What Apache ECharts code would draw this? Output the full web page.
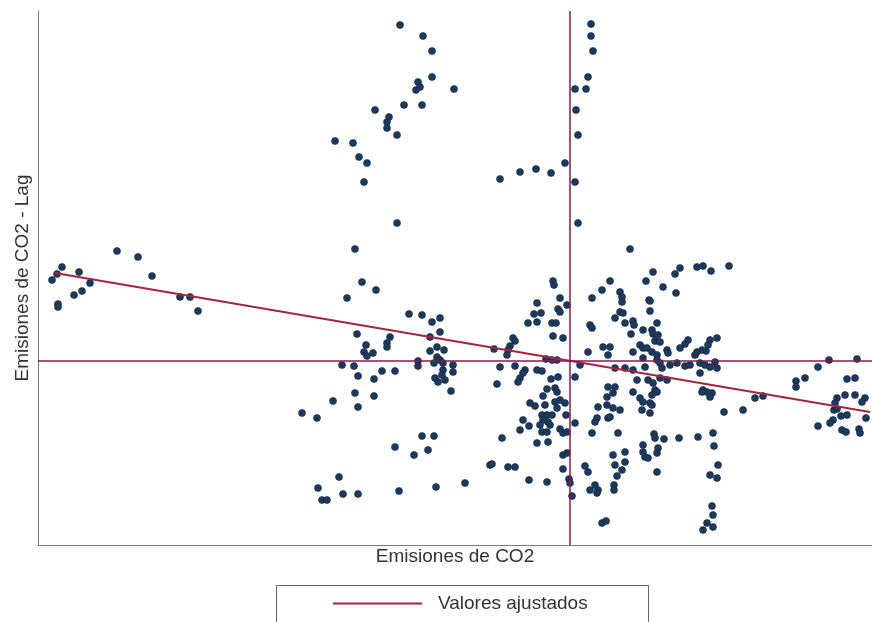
<!DOCTYPE html>
<html>
<head>
<meta charset="utf-8">
<script src="https://cdn.jsdelivr.net/npm/echarts@6/dist/echarts.min.js"></script>
<style>
  html, body { margin: 0; padding: 0; background: #fff; }
  #box { width: 872px; height: 622px; }
</style>
</head>
<body>
<div id="box"></div>
<script>
// valores estandarizados: [emisiones de CO2, rezago espacial]
var grupoOeste = [
    [-5.18, 0.81], [-5.13, 0.87], [-5.08, 0.94], [-4.91, 0.89], [-4.80, 0.78],
    [-4.88, 0.70], [-4.96, 0.66], [-5.12, 0.57], [-5.12, 0.54], [-4.53, 1.10],
    [-4.32, 1.04], [-4.18, 0.85], [-3.90, 0.64], [-3.80, 0.64], [-3.72, 0.50]
];
var grupoNorte = [
    [-1.70, 3.36], [-1.47, 3.25], [-1.38, 3.10], [-1.38, 2.84], [-1.52, 2.79],
    [-1.50, 2.74], [-1.54, 2.71], [-1.16, 2.72], [-1.95, 2.51], [-1.66, 2.56],
    [-1.48, 2.56], [-1.81, 2.44], [-1.83, 2.39], [-1.83, 2.33], [-1.73, 2.26],
    [-2.35, 2.20], [-2.17, 2.18], [-2.11, 2.04], [-2.03, 1.98], [-2.06, 1.79],
    [-1.73, 1.38], [-2.15, 1.12], [-2.08, 0.79], [-1.94, 0.71], [-2.23, 0.63]
];
var grupoCentroNorte = [
    [-0.70, 1.82], [-0.50, 1.89], [-0.34, 1.92], [-0.19, 1.88], [-0.05, 1.98],
    [0.05, 2.72], [0.06, 2.51], [0.08, 2.26], [0.05, 1.79], [0.08, 1.38],
    [0.21, 3.37], [0.21, 3.25], [0.23, 3.10], [0.18, 2.84], [0.16, 2.72],
    [0.60, 1.12]
];
var grupoNoreste = [
    [0.40, 0.80], [0.32, 0.71], [0.22, 0.63], [0.50, 0.69], [0.52, 0.64],
    [0.76, 0.80], [0.83, 0.89], [0.93, 0.74], [1.05, 0.87], [1.10, 0.93],
    [1.06, 0.68], [1.27, 0.94], [1.33, 0.95], [1.41, 0.90], [1.59, 0.95],
    [0.79, 0.61], [-0.17, 0.80], [-0.16, 0.76], [-0.10, 0.63]
];
var grupoCentroOeste = [
    [-1.61, 0.47], [-1.48, 0.46], [-1.38, 0.39], [-1.30, 0.43], [-1.30, 0.29],
    [-1.40, 0.24], [-2.13, 0.27], [-1.80, 0.24], [-1.83, 0.18], [-1.83, 0.14],
    [-2.04, 0.16], [-2.06, 0.09], [-2.03, 0.05], [-1.97, 0.08], [-1.40, 0.10],
    [-1.33, 0.14], [-1.26, 0.11], [-1.33, 0.04], [-1.30, 0.01], [-2.28, -0.04],
    [-2.16, -0.05], [-2.12, -0.15], [-1.88, -0.10], [-1.75, -0.10], [-1.52, 0.00],
    [-1.52, -0.05], [-1.36, -0.02], [-1.27, -0.02], [-1.17, -0.04], [-1.27, -0.09],
    [-1.17, -0.11], [-1.35, -0.17], [-1.32, -0.21], [-1.25, -0.19], [-1.28, -0.14],
    [-1.19, -0.30], [-1.96, -0.18], [-2.15, -0.32], [-1.96, -0.35], [-2.37, -0.40],
    [-2.12, -0.46], [-2.68, -0.52], [-2.53, -0.57], [-1.48, -0.75], [-1.36, -0.75],
    [-1.75, -0.86], [-1.56, -0.94], [-1.42, -0.89], [-2.31, -1.16], [-2.52, -1.27],
    [-2.48, -1.39], [-2.43, -1.39], [-2.27, -1.33], [-2.12, -1.33], [-1.71, -1.30],
    [-1.34, -1.26], [-1.05, -1.22], [-0.80, -1.04]
];
var grupoCentro = [
    [-0.33, 0.58], [-0.12, 0.52], [-0.10, 0.49], [-0.29, 0.48], [-0.36, 0.47],
    [-0.33, 0.39], [-0.42, 0.38], [-0.18, 0.38], [-0.14, 0.38], [-0.17, 0.25],
    [-0.07, 0.23], [-0.57, 0.23], [-0.55, 0.20], [-0.60, 0.15], [-0.62, 0.11],
    [-0.63, 0.06], [-0.76, 0.12], [-0.24, 0.02], [-0.13, 0.01], [-0.18, 0.01],
    [-0.70, -0.06], [-0.55, -0.05], [-0.45, -0.09], [-0.33, -0.09], [-0.28, -0.10],
    [-0.47, -0.12], [-0.50, -0.17], [-0.52, -0.21], [-0.73, -0.23], [-0.19, -0.18],
    [-0.12, -0.16], [0.05, -0.16], [-0.23, -0.28], [-0.15, -0.27], [-0.27, -0.35],
    [0.10, -0.04], [-0.03, 0.56], [0.20, 0.36], [0.22, 0.33], [0.18, 0.09],
    [0.33, 0.14], [0.38, 0.06]
];
var grupoCentroSur = [
    [-0.13, -0.31], [-0.40, -0.42], [-0.35, -0.45], [-0.25, -0.44], [-0.15, -0.41],
    [-0.10, -0.39], [-0.05, -0.42], [-0.13, -0.47], [-0.28, -0.54], [-0.23, -0.54],
    [-0.18, -0.54], [-0.27, -0.59], [-0.22, -0.61], [-0.20, -0.64], [-0.30, -0.64],
    [-0.47, -0.59], [-0.41, -0.65], [-0.50, -0.69], [-0.28, -0.71], [-0.23, -0.71],
    [-0.10, -0.68], [-0.07, -0.72], [-0.03, -0.71], [-0.04, -0.54], [-0.68, -0.77],
    [-0.33, -0.82], [-0.22, -0.81], [0.05, -0.62], [0.22, -0.72], [-0.07, -0.94],
    [-0.03, -0.92], [-0.78, -1.03], [-0.62, -1.06], [-0.55, -1.06], [-0.07, -1.08],
    [0.15, -1.05], [0.18, -1.11], [-0.41, -1.19], [-0.23, -1.21], [-0.01, -1.18],
    [0.00, -1.22], [0.02, -1.35], [0.20, -1.29], [0.25, -1.24], [0.28, -1.29],
    [0.27, -1.32], [0.32, -1.62], [0.36, -1.60], [0.28, -0.46], [0.27, -0.57],
    [0.25, -0.61], [0.37, -0.36], [0.38, -0.57]
];
var grupoEste = [
    [0.52, 0.59], [0.80, 0.60], [0.80, 0.50], [0.50, 0.49], [0.53, 0.48],
    [0.45, 0.43], [0.55, 0.38], [0.63, 0.40], [0.64, 0.36], [0.61, 0.27],
    [0.73, 0.31], [0.82, 0.31], [0.87, 0.38], [0.83, 0.27], [0.88, 0.26],
    [0.85, 0.20], [0.90, 0.19], [1.18, 0.21], [1.15, 0.17], [1.10, 0.13],
    [1.40, 0.21], [1.47, 0.23], [1.38, 0.16], [1.36, 0.10], [1.32, 0.11],
    [1.27, 0.09], [1.25, 0.06], [0.97, 0.11], [0.98, 0.08], [0.70, 0.16],
    [0.73, 0.13], [0.77, 0.13], [0.82, 0.09], [0.87, 0.06], [0.63, 0.09],
    [0.40, 0.14], [0.73, 0.03], [0.87, 0.01], [0.90, -0.02], [0.92, -0.07],
    [1.00, -0.04], [1.07, -0.02], [1.15, -0.05], [1.20, -0.04], [1.30, -0.02],
    [1.35, -0.04], [1.40, -0.06], [1.45, -0.01], [1.47, -0.07], [1.30, -0.12],
    [0.45, -0.07], [0.55, -0.07], [0.63, -0.09], [0.75, -0.06], [0.67, -0.19],
    [0.78, -0.19], [0.83, -0.22], [0.90, -0.17], [0.97, -0.19], [0.85, -0.29],
    [0.82, -0.34], [0.38, -0.26], [0.45, -0.26], [0.43, -0.32], [0.63, -0.31],
    [1.33, -0.29], [1.42, -0.32]
];
var grupoSureste = [
    [0.37, -0.44], [0.43, -0.47], [0.50, -0.49], [0.40, -0.56], [0.70, -0.37],
    [0.73, -0.41], [0.87, -0.31], [0.80, -0.42], [0.72, -0.49], [0.80, -0.52],
    [0.82, -0.44], [0.48, -0.72], [0.84, -0.73], [0.85, -0.77], [0.94, -0.78],
    [1.09, -0.77], [1.28, -0.76], [1.43, -0.72], [1.44, -0.85], [1.54, -0.51],
    [0.73, -0.84], [0.73, -0.91], [0.75, -0.96], [0.78, -0.97], [0.88, -0.87],
    [0.87, -0.92], [0.55, -0.91], [0.43, -0.94], [0.55, -1.01], [0.45, -1.04],
    [0.52, -1.09], [0.47, -1.15], [0.87, -1.11], [0.44, -1.24], [0.44, -1.29],
    [1.48, -1.04], [1.40, -1.14], [1.47, -1.17], [1.42, -1.45], [1.43, -1.54],
    [1.37, -1.62], [1.43, -1.66], [1.33, -1.69], [1.37, -0.31], [1.40, -0.36],
    [1.32, -0.31]
];
var grupoExtremoEste = [
    [2.59, 0.01], [2.87, 0.02], [2.48, -0.06], [2.26, -0.20], [2.26, -0.26],
    [2.35, -0.17], [2.77, -0.18], [2.85, -0.17], [1.85, -0.37], [1.93, -0.35],
    [1.73, -0.49], [2.67, -0.37], [2.75, -0.34], [2.85, -0.34], [2.95, -0.37],
    [2.92, -0.41], [2.65, -0.42], [2.64, -0.49], [2.67, -0.48], [2.71, -0.55],
    [2.77, -0.54], [2.63, -0.59], [2.60, -0.62], [2.96, -0.57], [2.48, -0.65],
    [2.72, -0.69], [2.76, -0.71], [2.89, -0.68], [2.90, -0.72]
];
// recta de regresión (valores ajustados)
var ajusteX = [-5.15, 3.0];
var ajusteY = [0.88, -0.51];

var puntos = [].concat(grupoOeste, grupoNorte, grupoCentroNorte, grupoNoreste,
    grupoCentroOeste, grupoCentro, grupoCentroSur, grupoEste, grupoSureste, grupoExtremoEste);
var ajuste = ajusteX.map(function (x, i) { return [x, ajusteY[i]]; });

var chart = echarts.init(document.getElementById('box'));

var option = {
    animation: false,
    backgroundColor: '#fff',
    textStyle: { fontFamily: 'Liberation Sans, Arial, sans-serif' },
    grid: { left: 38, right: 0, top: 11, bottom: 77 },
    xAxis: {
        type: 'value',
        min: -5.32,
        max: 3.02,
        name: 'Emisiones de CO2',
        nameLocation: 'middle',
        nameGap: 2,
        nameTextStyle: { fontSize: 19, color: '#333', verticalAlign: 'top' },
        axisLine: { onZero: false, lineStyle: { color: '#7a7a7a', width: 1 } },
        axisTick: { show: false },
        axisLabel: { show: false },
        splitLine: { show: false }
    },
    yAxis: {
        type: 'value',
        min: -1.84,
        max: 3.5,
        name: 'Emisiones de CO2 - Lag',
        nameLocation: 'middle',
        nameGap: 6,
        nameTextStyle: { fontSize: 19, color: '#333' },
        axisLine: { show: true, onZero: false, lineStyle: { color: '#7a7a7a', width: 1 } },
        axisTick: { show: false },
        axisLabel: { show: false },
        splitLine: { show: false }
    },
    legend: {
        data: [{ name: 'Valores ajustados', icon: 'rect' }],
        left: 333,
        top: 594,
        padding: 0,
        itemWidth: 89,
        itemHeight: 2,
        textStyle: { fontSize: 19, color: '#333', padding: [0, 0, 0, 11] }
    },
    graphic: [{
        type: 'rect',
        left: 274,
        top: 583,
        shape: { width: 372, height: 60 },
        style: { fill: 'none', stroke: '#666', lineWidth: 1 },
        silent: true
    }],
    series: [
        {
            name: 'Emisiones',
            type: 'scatter',
            data: puntos,
            symbol: 'circle',
            symbolSize: 7,
            itemStyle: { color: '#1c3a5e', borderColor: '#12273f', borderWidth: 0.6, opacity: 1 },
            markLine: {
                silent: true,
                symbol: 'none',
                label: { show: false },
                lineStyle: { color: '#8a1a4a', width: 1.5, type: 'solid' },
                data: [{ xAxis: 0 }, { yAxis: 0 }]
            }
        },
        {
            name: 'Valores ajustados',
            type: 'line',
            data: ajuste,
            symbol: 'none',
            color: '#a3263f',
            lineStyle: { width: 2, color: '#a3263f' },
            z: 3
        }
    ]
};

chart.setOption(option);
</script>
</body>
</html>
